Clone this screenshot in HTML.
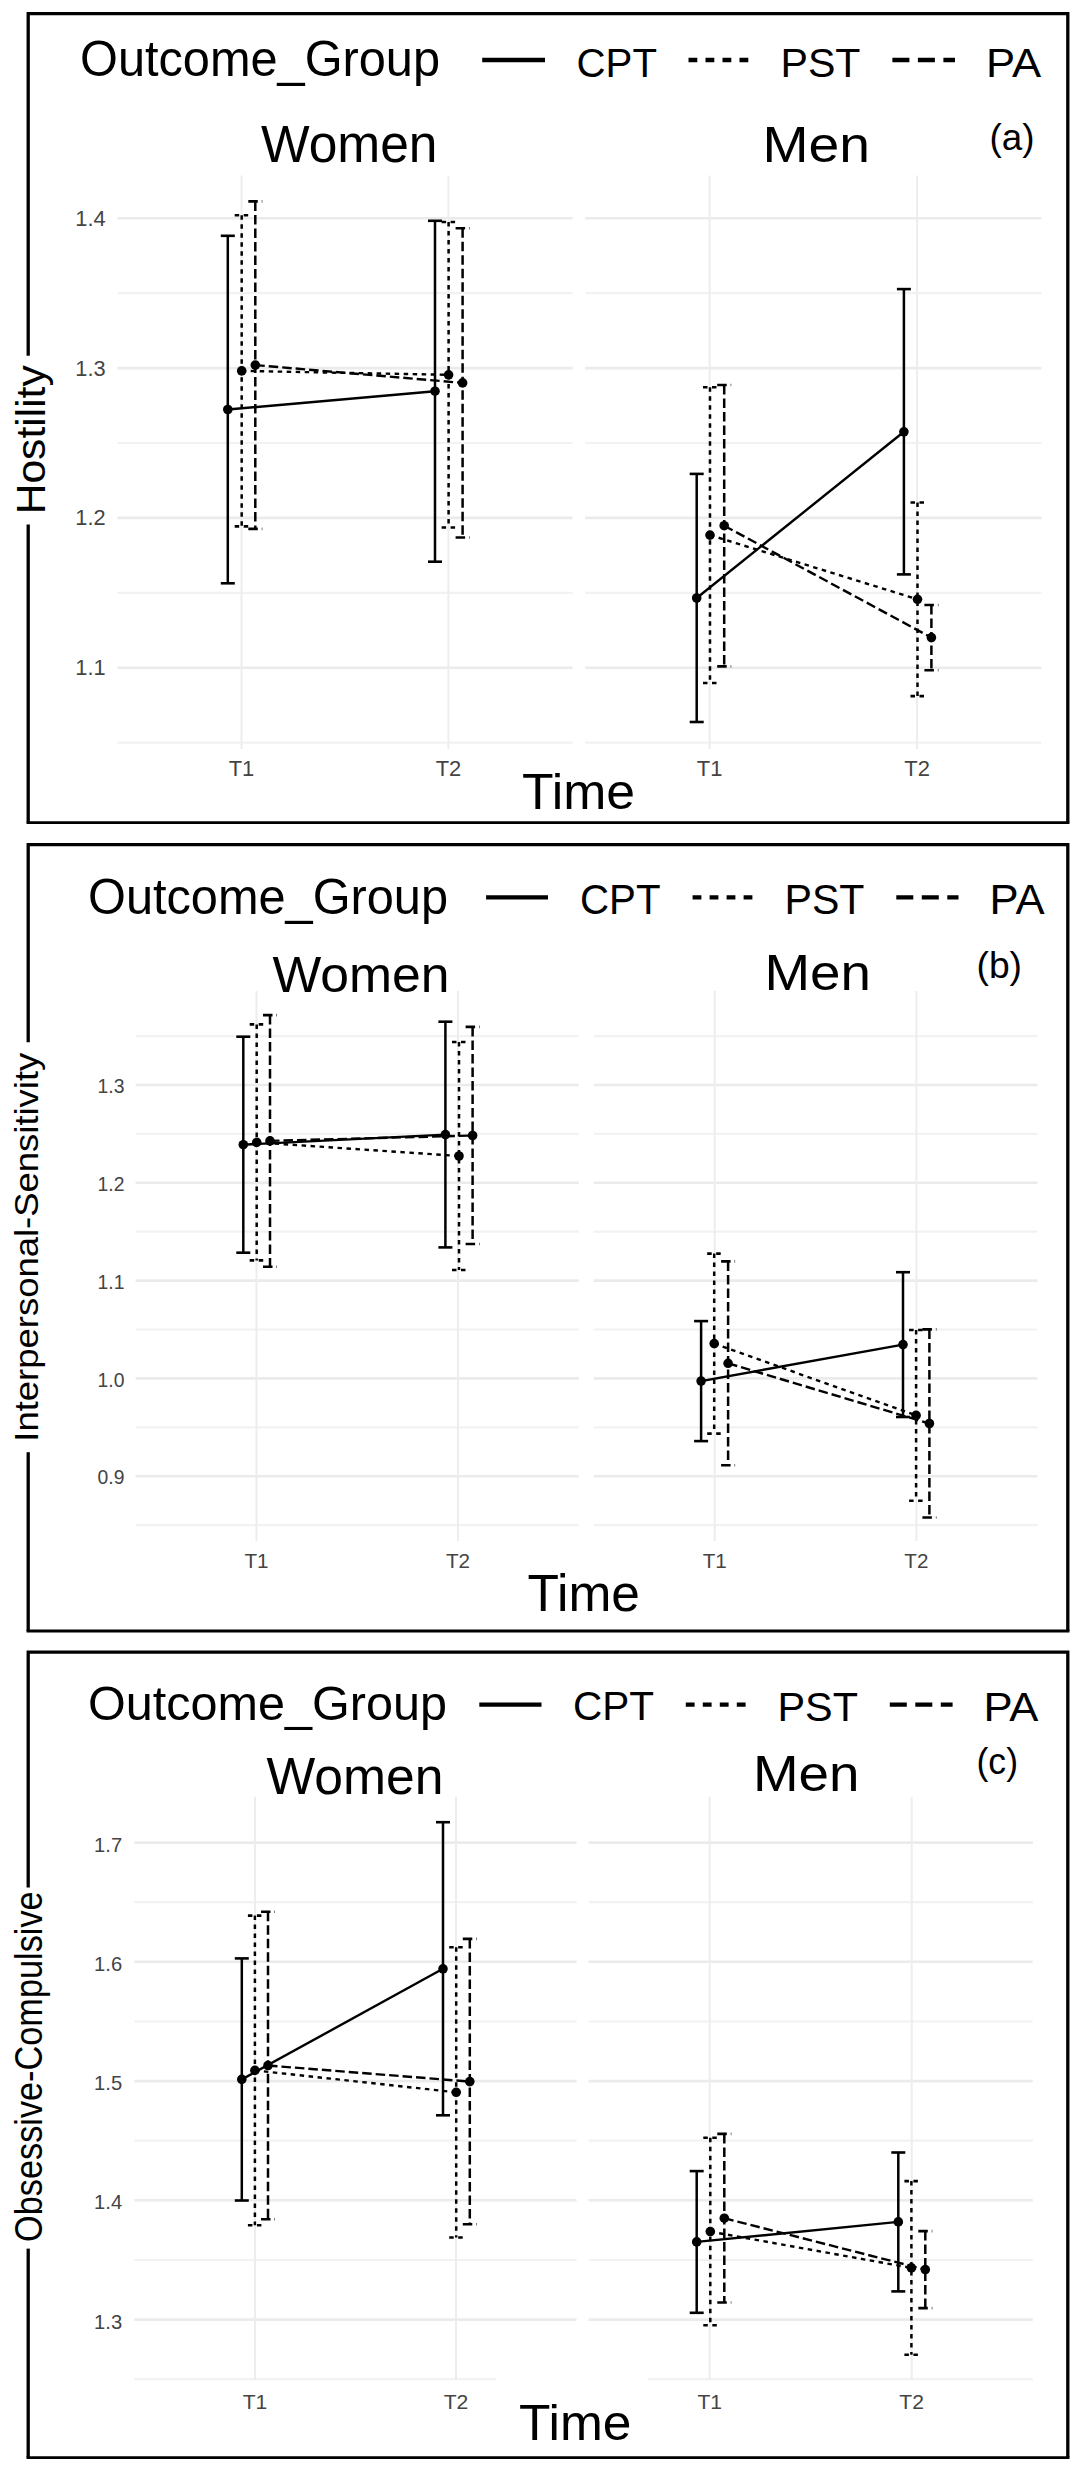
<!DOCTYPE html>
<html><head><meta charset="utf-8"><style>
html,body{margin:0;padding:0;background:#fff;width:1080px;height:2480px;overflow:hidden}
</style></head><body>
<svg width="1080" height="2480" viewBox="0 0 1080 2480" style="display:block;font-family:'Liberation Sans', sans-serif">
<rect width="1080" height="2480" fill="#fff"/>
<line x1="117.3" y1="742.7" x2="572.6" y2="742.7" stroke="#f2f2f2" stroke-width="2.2"/>
<line x1="117.3" y1="667.8" x2="572.6" y2="667.8" stroke="#ebebeb" stroke-width="2.6"/>
<line x1="117.3" y1="592.9" x2="572.6" y2="592.9" stroke="#f2f2f2" stroke-width="2.2"/>
<line x1="117.3" y1="517.9" x2="572.6" y2="517.9" stroke="#ebebeb" stroke-width="2.6"/>
<line x1="117.3" y1="443.0" x2="572.6" y2="443.0" stroke="#f2f2f2" stroke-width="2.2"/>
<line x1="117.3" y1="368.1" x2="572.6" y2="368.1" stroke="#ebebeb" stroke-width="2.6"/>
<line x1="117.3" y1="293.1" x2="572.6" y2="293.1" stroke="#f2f2f2" stroke-width="2.2"/>
<line x1="117.3" y1="218.2" x2="572.6" y2="218.2" stroke="#ebebeb" stroke-width="2.6"/>
<line x1="241.5" y1="175.6" x2="241.5" y2="748.9" stroke="#ededed" stroke-width="2.0"/>
<line x1="448.4" y1="175.6" x2="448.4" y2="748.9" stroke="#ededed" stroke-width="2.0"/>
<line x1="585.2" y1="742.7" x2="1041.5" y2="742.7" stroke="#f2f2f2" stroke-width="2.2"/>
<line x1="585.2" y1="667.8" x2="1041.5" y2="667.8" stroke="#ebebeb" stroke-width="2.6"/>
<line x1="585.2" y1="592.9" x2="1041.5" y2="592.9" stroke="#f2f2f2" stroke-width="2.2"/>
<line x1="585.2" y1="517.9" x2="1041.5" y2="517.9" stroke="#ebebeb" stroke-width="2.6"/>
<line x1="585.2" y1="443.0" x2="1041.5" y2="443.0" stroke="#f2f2f2" stroke-width="2.2"/>
<line x1="585.2" y1="368.1" x2="1041.5" y2="368.1" stroke="#ebebeb" stroke-width="2.6"/>
<line x1="585.2" y1="293.1" x2="1041.5" y2="293.1" stroke="#f2f2f2" stroke-width="2.2"/>
<line x1="585.2" y1="218.2" x2="1041.5" y2="218.2" stroke="#ebebeb" stroke-width="2.6"/>
<line x1="709.6" y1="175.6" x2="709.6" y2="748.9" stroke="#ededed" stroke-width="2.0"/>
<line x1="917.1" y1="175.6" x2="917.1" y2="748.9" stroke="#ededed" stroke-width="2.0"/>
<text x="105.60" y="675.30" font-size="21.80" text-anchor="end" fill="#444" >1.1</text>
<text x="105.60" y="525.43" font-size="21.80" text-anchor="end" fill="#444" >1.2</text>
<text x="105.60" y="375.56" font-size="21.80" text-anchor="end" fill="#444" >1.3</text>
<text x="105.60" y="225.69" font-size="21.80" text-anchor="end" fill="#444" >1.4</text>
<text x="241.47" y="775.60" font-size="21.95" text-anchor="middle" fill="#444" >T1</text>
<text x="448.43" y="775.60" font-size="21.95" text-anchor="middle" fill="#444" >T2</text>
<text x="709.65" y="775.60" font-size="21.95" text-anchor="middle" fill="#444" >T1</text>
<text x="917.05" y="775.60" font-size="21.95" text-anchor="middle" fill="#444" >T2</text>
<line x1="227.8" y1="235.8" x2="227.8" y2="583.3" stroke="#000" stroke-width="2.5"/>
<line x1="220.8" y1="235.8" x2="234.8" y2="235.8" stroke="#000" stroke-width="2.6"/>
<line x1="220.8" y1="583.3" x2="234.8" y2="583.3" stroke="#000" stroke-width="2.6"/>
<line x1="435.0" y1="220.8" x2="435.0" y2="561.7" stroke="#000" stroke-width="2.5"/>
<line x1="428.0" y1="220.8" x2="442.0" y2="220.8" stroke="#000" stroke-width="2.6"/>
<line x1="428.0" y1="561.7" x2="442.0" y2="561.7" stroke="#000" stroke-width="2.6"/>
<line x1="227.8" y1="409.5" x2="435.0" y2="391.2" stroke="#000" stroke-width="2.4"/>
<circle cx="227.8" cy="409.5" r="4.8" fill="#000"/>
<circle cx="435.0" cy="391.2" r="4.8" fill="#000"/>
<line x1="241.7" y1="215.3" x2="241.7" y2="526.4" stroke="#000" stroke-width="2.5" stroke-dasharray="4.5 4.5"/>
<line x1="234.7" y1="215.3" x2="248.7" y2="215.3" stroke="#000" stroke-width="2.6" stroke-dasharray="4.5 4.5"/>
<line x1="234.7" y1="526.4" x2="248.7" y2="526.4" stroke="#000" stroke-width="2.6" stroke-dasharray="4.5 4.5"/>
<line x1="448.6" y1="222.0" x2="448.6" y2="527.5" stroke="#000" stroke-width="2.5" stroke-dasharray="4.5 4.5"/>
<line x1="441.6" y1="222.0" x2="455.6" y2="222.0" stroke="#000" stroke-width="2.6" stroke-dasharray="4.5 4.5"/>
<line x1="441.6" y1="527.5" x2="455.6" y2="527.5" stroke="#000" stroke-width="2.6" stroke-dasharray="4.5 4.5"/>
<line x1="241.7" y1="370.9" x2="448.6" y2="374.8" stroke="#000" stroke-width="2.4" stroke-dasharray="4.5 4.5"/>
<circle cx="241.7" cy="370.9" r="4.8" fill="#000"/>
<circle cx="448.6" cy="374.8" r="4.8" fill="#000"/>
<line x1="255.3" y1="201.4" x2="255.3" y2="528.9" stroke="#000" stroke-width="2.5" stroke-dasharray="9.5 4"/>
<line x1="248.3" y1="201.4" x2="262.3" y2="201.4" stroke="#000" stroke-width="2.6" stroke-dasharray="9.5 4"/>
<line x1="248.3" y1="528.9" x2="262.3" y2="528.9" stroke="#000" stroke-width="2.6" stroke-dasharray="9.5 4"/>
<line x1="462.6" y1="228.3" x2="462.6" y2="537.5" stroke="#000" stroke-width="2.5" stroke-dasharray="9.5 4"/>
<line x1="455.6" y1="228.3" x2="469.6" y2="228.3" stroke="#000" stroke-width="2.6" stroke-dasharray="9.5 4"/>
<line x1="455.6" y1="537.5" x2="469.6" y2="537.5" stroke="#000" stroke-width="2.6" stroke-dasharray="9.5 4"/>
<line x1="255.3" y1="365.1" x2="462.6" y2="382.9" stroke="#000" stroke-width="2.4" stroke-dasharray="9.5 4"/>
<circle cx="255.3" cy="365.1" r="4.8" fill="#000"/>
<circle cx="462.6" cy="382.9" r="4.8" fill="#000"/>
<line x1="696.7" y1="473.9" x2="696.7" y2="722.0" stroke="#000" stroke-width="2.5"/>
<line x1="689.7" y1="473.9" x2="703.7" y2="473.9" stroke="#000" stroke-width="2.6"/>
<line x1="689.7" y1="722.0" x2="703.7" y2="722.0" stroke="#000" stroke-width="2.6"/>
<line x1="903.9" y1="289.1" x2="903.9" y2="574.4" stroke="#000" stroke-width="2.5"/>
<line x1="896.9" y1="289.1" x2="910.9" y2="289.1" stroke="#000" stroke-width="2.6"/>
<line x1="896.9" y1="574.4" x2="910.9" y2="574.4" stroke="#000" stroke-width="2.6"/>
<line x1="696.7" y1="598.0" x2="903.9" y2="431.8" stroke="#000" stroke-width="2.4"/>
<circle cx="696.7" cy="598.0" r="4.8" fill="#000"/>
<circle cx="903.9" cy="431.8" r="4.8" fill="#000"/>
<line x1="710.0" y1="387.2" x2="710.0" y2="683.0" stroke="#000" stroke-width="2.5" stroke-dasharray="4.5 4.5"/>
<line x1="703.0" y1="387.2" x2="717.0" y2="387.2" stroke="#000" stroke-width="2.6" stroke-dasharray="4.5 4.5"/>
<line x1="703.0" y1="683.0" x2="717.0" y2="683.0" stroke="#000" stroke-width="2.6" stroke-dasharray="4.5 4.5"/>
<line x1="917.5" y1="502.5" x2="917.5" y2="696.1" stroke="#000" stroke-width="2.5" stroke-dasharray="4.5 4.5"/>
<line x1="910.5" y1="502.5" x2="924.5" y2="502.5" stroke="#000" stroke-width="2.6" stroke-dasharray="4.5 4.5"/>
<line x1="910.5" y1="696.1" x2="924.5" y2="696.1" stroke="#000" stroke-width="2.6" stroke-dasharray="4.5 4.5"/>
<line x1="710.0" y1="535.1" x2="917.5" y2="599.3" stroke="#000" stroke-width="2.4" stroke-dasharray="4.5 4.5"/>
<circle cx="710.0" cy="535.1" r="4.8" fill="#000"/>
<circle cx="917.5" cy="599.3" r="4.8" fill="#000"/>
<line x1="724.2" y1="385.0" x2="724.2" y2="666.4" stroke="#000" stroke-width="2.5" stroke-dasharray="9.5 4"/>
<line x1="717.2" y1="385.0" x2="731.2" y2="385.0" stroke="#000" stroke-width="2.6" stroke-dasharray="9.5 4"/>
<line x1="717.2" y1="666.4" x2="731.2" y2="666.4" stroke="#000" stroke-width="2.6" stroke-dasharray="9.5 4"/>
<line x1="931.4" y1="605.0" x2="931.4" y2="670.3" stroke="#000" stroke-width="2.5" stroke-dasharray="9.5 4"/>
<line x1="924.4" y1="605.0" x2="938.4" y2="605.0" stroke="#000" stroke-width="2.6" stroke-dasharray="9.5 4"/>
<line x1="924.4" y1="670.3" x2="938.4" y2="670.3" stroke="#000" stroke-width="2.6" stroke-dasharray="9.5 4"/>
<line x1="724.2" y1="525.7" x2="931.4" y2="637.6" stroke="#000" stroke-width="2.4" stroke-dasharray="9.5 4"/>
<circle cx="724.2" cy="525.7" r="4.8" fill="#000"/>
<circle cx="931.4" cy="637.6" r="4.8" fill="#000"/>
<text x="80.00" y="76.00" font-size="50.15" text-anchor="start" fill="#000" textLength="360.00" lengthAdjust="spacingAndGlyphs" >Outcome_Group</text>
<text x="576.50" y="76.50" font-size="40.84" text-anchor="start" fill="#000" textLength="80.50" lengthAdjust="spacingAndGlyphs" >CPT</text>
<text x="780.50" y="76.50" font-size="40.84" text-anchor="start" fill="#000" textLength="80.00" lengthAdjust="spacingAndGlyphs" >PST</text>
<text x="986.00" y="76.70" font-size="40.84" text-anchor="start" fill="#000" textLength="55.00" lengthAdjust="spacingAndGlyphs" >PA</text>
<line x1="482.2" y1="60.0" x2="545.0" y2="60.0" stroke="#000" stroke-width="4.3"/>
<line x1="688.5" y1="60.0" x2="749.7" y2="60.0" stroke="#000" stroke-width="4.3" stroke-dasharray="8.8 8.2"/>
<line x1="892.4" y1="60.0" x2="955.0" y2="60.0" stroke="#000" stroke-width="4.3" stroke-dasharray="17 8.5"/>
<text x="261.00" y="162.00" font-size="51.89" text-anchor="start" fill="#000" textLength="176.50" lengthAdjust="spacingAndGlyphs" >Women</text>
<text x="762.50" y="162.20" font-size="50.73" text-anchor="start" fill="#000" textLength="107.50" lengthAdjust="spacingAndGlyphs" >Men</text>
<text x="989.50" y="149.80" font-size="37.42" text-anchor="start" fill="#000" textLength="45.00" lengthAdjust="spacingAndGlyphs" >(a)</text>
<text x="522.00" y="808.50" font-size="50.58" text-anchor="start" fill="#000" textLength="113.00" lengthAdjust="spacingAndGlyphs" >Time</text>
<text x="0" y="0" font-size="41.13" textLength="149.00" lengthAdjust="spacingAndGlyphs" transform="translate(45.0,514.30) rotate(-90)">Hostility</text>
<path d="M28.2,355.8 V13.6 H1067.8 V822.6" fill="none" stroke="#000" stroke-width="3.3"/>
<line x1="26.55" y1="822.6" x2="1069.45" y2="822.6" stroke="#000" stroke-width="2.7"/>
<line x1="28.2" y1="524.4" x2="28.2" y2="822.6" stroke="#000" stroke-width="3.3"/>
<line x1="135.6" y1="1525.1" x2="578.9" y2="1525.1" stroke="#f2f2f2" stroke-width="2.2"/>
<line x1="135.6" y1="1476.2" x2="578.9" y2="1476.2" stroke="#ebebeb" stroke-width="2.6"/>
<line x1="135.6" y1="1427.3" x2="578.9" y2="1427.3" stroke="#f2f2f2" stroke-width="2.2"/>
<line x1="135.6" y1="1378.4" x2="578.9" y2="1378.4" stroke="#ebebeb" stroke-width="2.6"/>
<line x1="135.6" y1="1329.5" x2="578.9" y2="1329.5" stroke="#f2f2f2" stroke-width="2.2"/>
<line x1="135.6" y1="1280.6" x2="578.9" y2="1280.6" stroke="#ebebeb" stroke-width="2.6"/>
<line x1="135.6" y1="1231.7" x2="578.9" y2="1231.7" stroke="#f2f2f2" stroke-width="2.2"/>
<line x1="135.6" y1="1182.8" x2="578.9" y2="1182.8" stroke="#ebebeb" stroke-width="2.6"/>
<line x1="135.6" y1="1133.9" x2="578.9" y2="1133.9" stroke="#f2f2f2" stroke-width="2.2"/>
<line x1="135.6" y1="1085.0" x2="578.9" y2="1085.0" stroke="#ebebeb" stroke-width="2.6"/>
<line x1="135.6" y1="1036.1" x2="578.9" y2="1036.1" stroke="#f2f2f2" stroke-width="2.2"/>
<line x1="256.5" y1="991.0" x2="256.5" y2="1541.0" stroke="#ededed" stroke-width="2.0"/>
<line x1="458.0" y1="991.0" x2="458.0" y2="1541.0" stroke="#ededed" stroke-width="2.0"/>
<line x1="593.7" y1="1525.1" x2="1037.4" y2="1525.1" stroke="#f2f2f2" stroke-width="2.2"/>
<line x1="593.7" y1="1476.2" x2="1037.4" y2="1476.2" stroke="#ebebeb" stroke-width="2.6"/>
<line x1="593.7" y1="1427.3" x2="1037.4" y2="1427.3" stroke="#f2f2f2" stroke-width="2.2"/>
<line x1="593.7" y1="1378.4" x2="1037.4" y2="1378.4" stroke="#ebebeb" stroke-width="2.6"/>
<line x1="593.7" y1="1329.5" x2="1037.4" y2="1329.5" stroke="#f2f2f2" stroke-width="2.2"/>
<line x1="593.7" y1="1280.6" x2="1037.4" y2="1280.6" stroke="#ebebeb" stroke-width="2.6"/>
<line x1="593.7" y1="1231.7" x2="1037.4" y2="1231.7" stroke="#f2f2f2" stroke-width="2.2"/>
<line x1="593.7" y1="1182.8" x2="1037.4" y2="1182.8" stroke="#ebebeb" stroke-width="2.6"/>
<line x1="593.7" y1="1133.9" x2="1037.4" y2="1133.9" stroke="#f2f2f2" stroke-width="2.2"/>
<line x1="593.7" y1="1085.0" x2="1037.4" y2="1085.0" stroke="#ebebeb" stroke-width="2.6"/>
<line x1="593.7" y1="1036.1" x2="1037.4" y2="1036.1" stroke="#f2f2f2" stroke-width="2.2"/>
<line x1="714.7" y1="991.0" x2="714.7" y2="1541.0" stroke="#ededed" stroke-width="2.0"/>
<line x1="916.4" y1="991.0" x2="916.4" y2="1541.0" stroke="#ededed" stroke-width="2.0"/>
<text x="124.40" y="1484.35" font-size="19.33" text-anchor="end" fill="#444" >0.9</text>
<text x="124.40" y="1386.55" font-size="19.33" text-anchor="end" fill="#444" >1.0</text>
<text x="124.40" y="1288.75" font-size="19.33" text-anchor="end" fill="#444" >1.1</text>
<text x="124.40" y="1190.95" font-size="19.33" text-anchor="end" fill="#444" >1.2</text>
<text x="124.40" y="1093.15" font-size="19.33" text-anchor="end" fill="#444" >1.3</text>
<text x="256.50" y="1568.40" font-size="20.64" text-anchor="middle" fill="#444" >T1</text>
<text x="458.00" y="1568.40" font-size="20.64" text-anchor="middle" fill="#444" >T2</text>
<text x="714.71" y="1568.40" font-size="20.64" text-anchor="middle" fill="#444" >T1</text>
<text x="916.39" y="1568.40" font-size="20.64" text-anchor="middle" fill="#444" >T2</text>
<line x1="243.3" y1="1036.7" x2="243.3" y2="1252.7" stroke="#000" stroke-width="2.5"/>
<line x1="236.3" y1="1036.7" x2="250.3" y2="1036.7" stroke="#000" stroke-width="2.6"/>
<line x1="236.3" y1="1252.7" x2="250.3" y2="1252.7" stroke="#000" stroke-width="2.6"/>
<line x1="445.4" y1="1021.7" x2="445.4" y2="1247.4" stroke="#000" stroke-width="2.5"/>
<line x1="438.4" y1="1021.7" x2="452.4" y2="1021.7" stroke="#000" stroke-width="2.6"/>
<line x1="438.4" y1="1247.4" x2="452.4" y2="1247.4" stroke="#000" stroke-width="2.6"/>
<line x1="243.3" y1="1144.7" x2="445.4" y2="1134.6" stroke="#000" stroke-width="2.4"/>
<circle cx="243.3" cy="1144.7" r="4.8" fill="#000"/>
<circle cx="445.4" cy="1134.6" r="4.8" fill="#000"/>
<line x1="256.7" y1="1024.4" x2="256.7" y2="1260.4" stroke="#000" stroke-width="2.5" stroke-dasharray="4.5 4.5"/>
<line x1="249.7" y1="1024.4" x2="263.7" y2="1024.4" stroke="#000" stroke-width="2.6" stroke-dasharray="4.5 4.5"/>
<line x1="249.7" y1="1260.4" x2="263.7" y2="1260.4" stroke="#000" stroke-width="2.6" stroke-dasharray="4.5 4.5"/>
<line x1="459.0" y1="1042.0" x2="459.0" y2="1270.0" stroke="#000" stroke-width="2.5" stroke-dasharray="4.5 4.5"/>
<line x1="452.0" y1="1042.0" x2="466.0" y2="1042.0" stroke="#000" stroke-width="2.6" stroke-dasharray="4.5 4.5"/>
<line x1="452.0" y1="1270.0" x2="466.0" y2="1270.0" stroke="#000" stroke-width="2.6" stroke-dasharray="4.5 4.5"/>
<line x1="256.7" y1="1142.4" x2="459.0" y2="1156.0" stroke="#000" stroke-width="2.4" stroke-dasharray="4.5 4.5"/>
<circle cx="256.7" cy="1142.4" r="4.8" fill="#000"/>
<circle cx="459.0" cy="1156.0" r="4.8" fill="#000"/>
<line x1="270.0" y1="1015.1" x2="270.0" y2="1266.7" stroke="#000" stroke-width="2.5" stroke-dasharray="9.5 4"/>
<line x1="263.0" y1="1015.1" x2="277.0" y2="1015.1" stroke="#000" stroke-width="2.6" stroke-dasharray="9.5 4"/>
<line x1="263.0" y1="1266.7" x2="277.0" y2="1266.7" stroke="#000" stroke-width="2.6" stroke-dasharray="9.5 4"/>
<line x1="472.6" y1="1026.9" x2="472.6" y2="1244.0" stroke="#000" stroke-width="2.5" stroke-dasharray="9.5 4"/>
<line x1="465.6" y1="1026.9" x2="479.6" y2="1026.9" stroke="#000" stroke-width="2.6" stroke-dasharray="9.5 4"/>
<line x1="465.6" y1="1244.0" x2="479.6" y2="1244.0" stroke="#000" stroke-width="2.6" stroke-dasharray="9.5 4"/>
<line x1="270.0" y1="1140.9" x2="472.6" y2="1135.5" stroke="#000" stroke-width="2.4" stroke-dasharray="9.5 4"/>
<circle cx="270.0" cy="1140.9" r="4.8" fill="#000"/>
<circle cx="472.6" cy="1135.5" r="4.8" fill="#000"/>
<line x1="701.1" y1="1321.1" x2="701.1" y2="1441.1" stroke="#000" stroke-width="2.5"/>
<line x1="694.1" y1="1321.1" x2="708.1" y2="1321.1" stroke="#000" stroke-width="2.6"/>
<line x1="694.1" y1="1441.1" x2="708.1" y2="1441.1" stroke="#000" stroke-width="2.6"/>
<line x1="903.0" y1="1272.2" x2="903.0" y2="1417.0" stroke="#000" stroke-width="2.5"/>
<line x1="896.0" y1="1272.2" x2="910.0" y2="1272.2" stroke="#000" stroke-width="2.6"/>
<line x1="896.0" y1="1417.0" x2="910.0" y2="1417.0" stroke="#000" stroke-width="2.6"/>
<line x1="701.1" y1="1381.1" x2="903.0" y2="1344.6" stroke="#000" stroke-width="2.4"/>
<circle cx="701.1" cy="1381.1" r="4.8" fill="#000"/>
<circle cx="903.0" cy="1344.6" r="4.8" fill="#000"/>
<line x1="714.2" y1="1253.6" x2="714.2" y2="1433.6" stroke="#000" stroke-width="2.5" stroke-dasharray="4.5 4.5"/>
<line x1="707.2" y1="1253.6" x2="721.2" y2="1253.6" stroke="#000" stroke-width="2.6" stroke-dasharray="4.5 4.5"/>
<line x1="707.2" y1="1433.6" x2="721.2" y2="1433.6" stroke="#000" stroke-width="2.6" stroke-dasharray="4.5 4.5"/>
<line x1="916.1" y1="1330.0" x2="916.1" y2="1500.8" stroke="#000" stroke-width="2.5" stroke-dasharray="4.5 4.5"/>
<line x1="909.1" y1="1330.0" x2="923.1" y2="1330.0" stroke="#000" stroke-width="2.6" stroke-dasharray="4.5 4.5"/>
<line x1="909.1" y1="1500.8" x2="923.1" y2="1500.8" stroke="#000" stroke-width="2.6" stroke-dasharray="4.5 4.5"/>
<line x1="714.2" y1="1343.6" x2="916.1" y2="1415.4" stroke="#000" stroke-width="2.4" stroke-dasharray="4.5 4.5"/>
<circle cx="714.2" cy="1343.6" r="4.8" fill="#000"/>
<circle cx="916.1" cy="1415.4" r="4.8" fill="#000"/>
<line x1="728.1" y1="1261.4" x2="728.1" y2="1465.3" stroke="#000" stroke-width="2.5" stroke-dasharray="9.5 4"/>
<line x1="721.1" y1="1261.4" x2="735.1" y2="1261.4" stroke="#000" stroke-width="2.6" stroke-dasharray="9.5 4"/>
<line x1="721.1" y1="1465.3" x2="735.1" y2="1465.3" stroke="#000" stroke-width="2.6" stroke-dasharray="9.5 4"/>
<line x1="929.4" y1="1329.4" x2="929.4" y2="1517.5" stroke="#000" stroke-width="2.5" stroke-dasharray="9.5 4"/>
<line x1="922.4" y1="1329.4" x2="936.4" y2="1329.4" stroke="#000" stroke-width="2.6" stroke-dasharray="9.5 4"/>
<line x1="922.4" y1="1517.5" x2="936.4" y2="1517.5" stroke="#000" stroke-width="2.6" stroke-dasharray="9.5 4"/>
<line x1="728.1" y1="1363.3" x2="929.4" y2="1423.5" stroke="#000" stroke-width="2.4" stroke-dasharray="9.5 4"/>
<circle cx="728.1" cy="1363.3" r="4.8" fill="#000"/>
<circle cx="929.4" cy="1423.5" r="4.8" fill="#000"/>
<text x="88.00" y="913.70" font-size="50.15" text-anchor="start" fill="#000" textLength="360.00" lengthAdjust="spacingAndGlyphs" >Outcome_Group</text>
<text x="580.00" y="914.20" font-size="42.15" text-anchor="start" fill="#000" textLength="80.50" lengthAdjust="spacingAndGlyphs" >CPT</text>
<text x="784.50" y="914.20" font-size="42.15" text-anchor="start" fill="#000" textLength="80.00" lengthAdjust="spacingAndGlyphs" >PST</text>
<text x="989.50" y="914.20" font-size="42.15" text-anchor="start" fill="#000" textLength="55.00" lengthAdjust="spacingAndGlyphs" >PA</text>
<line x1="486.1" y1="897.3" x2="548.0" y2="897.3" stroke="#000" stroke-width="4.3"/>
<line x1="692.6" y1="897.3" x2="753.3" y2="897.3" stroke="#000" stroke-width="4.3" stroke-dasharray="8.8 8.2"/>
<line x1="896.3" y1="897.3" x2="958.5" y2="897.3" stroke="#000" stroke-width="4.3" stroke-dasharray="17 8.5"/>
<text x="272.50" y="991.90" font-size="50.73" text-anchor="start" fill="#000" textLength="177.00" lengthAdjust="spacingAndGlyphs" >Women</text>
<text x="764.50" y="990.10" font-size="50.73" text-anchor="start" fill="#000" textLength="106.50" lengthAdjust="spacingAndGlyphs" >Men</text>
<text x="976.50" y="978.30" font-size="37.31" text-anchor="start" fill="#000" textLength="45.50" lengthAdjust="spacingAndGlyphs" >(b)</text>
<text x="527.50" y="1611.10" font-size="51.16" text-anchor="start" fill="#000" textLength="112.50" lengthAdjust="spacingAndGlyphs" >Time</text>
<text x="0" y="0" font-size="33.58" textLength="389.00" lengthAdjust="spacingAndGlyphs" transform="translate(38.3,1441.70) rotate(-90)">Interpersonal-Sensitivity</text>
<path d="M28.2,1042.2 V844.6 H1067.8 V1631.0" fill="none" stroke="#000" stroke-width="3.3"/>
<line x1="26.55" y1="1631.0" x2="1069.45" y2="1631.0" stroke="#000" stroke-width="3.0"/>
<line x1="28.2" y1="1452.2" x2="28.2" y2="1631.0" stroke="#000" stroke-width="3.3"/>
<line x1="134.4" y1="2379.2" x2="576.6" y2="2379.2" stroke="#f2f2f2" stroke-width="2.2"/>
<line x1="134.4" y1="2319.6" x2="576.6" y2="2319.6" stroke="#ebebeb" stroke-width="2.6"/>
<line x1="134.4" y1="2260.0" x2="576.6" y2="2260.0" stroke="#f2f2f2" stroke-width="2.2"/>
<line x1="134.4" y1="2200.3" x2="576.6" y2="2200.3" stroke="#ebebeb" stroke-width="2.6"/>
<line x1="134.4" y1="2140.7" x2="576.6" y2="2140.7" stroke="#f2f2f2" stroke-width="2.2"/>
<line x1="134.4" y1="2081.1" x2="576.6" y2="2081.1" stroke="#ebebeb" stroke-width="2.6"/>
<line x1="134.4" y1="2021.5" x2="576.6" y2="2021.5" stroke="#f2f2f2" stroke-width="2.2"/>
<line x1="134.4" y1="1961.8" x2="576.6" y2="1961.8" stroke="#ebebeb" stroke-width="2.6"/>
<line x1="134.4" y1="1902.2" x2="576.6" y2="1902.2" stroke="#f2f2f2" stroke-width="2.2"/>
<line x1="134.4" y1="1842.6" x2="576.6" y2="1842.6" stroke="#ebebeb" stroke-width="2.6"/>
<line x1="255.0" y1="1796.7" x2="255.0" y2="2380.0" stroke="#ededed" stroke-width="2.0"/>
<line x1="456.0" y1="1796.7" x2="456.0" y2="2380.0" stroke="#ededed" stroke-width="2.0"/>
<line x1="588.6" y1="2379.2" x2="1032.8" y2="2379.2" stroke="#f2f2f2" stroke-width="2.2"/>
<line x1="588.6" y1="2319.6" x2="1032.8" y2="2319.6" stroke="#ebebeb" stroke-width="2.6"/>
<line x1="588.6" y1="2260.0" x2="1032.8" y2="2260.0" stroke="#f2f2f2" stroke-width="2.2"/>
<line x1="588.6" y1="2200.3" x2="1032.8" y2="2200.3" stroke="#ebebeb" stroke-width="2.6"/>
<line x1="588.6" y1="2140.7" x2="1032.8" y2="2140.7" stroke="#f2f2f2" stroke-width="2.2"/>
<line x1="588.6" y1="2081.1" x2="1032.8" y2="2081.1" stroke="#ebebeb" stroke-width="2.6"/>
<line x1="588.6" y1="2021.5" x2="1032.8" y2="2021.5" stroke="#f2f2f2" stroke-width="2.2"/>
<line x1="588.6" y1="1961.8" x2="1032.8" y2="1961.8" stroke="#ebebeb" stroke-width="2.6"/>
<line x1="588.6" y1="1902.2" x2="1032.8" y2="1902.2" stroke="#f2f2f2" stroke-width="2.2"/>
<line x1="588.6" y1="1842.6" x2="1032.8" y2="1842.6" stroke="#ebebeb" stroke-width="2.6"/>
<line x1="709.7" y1="1796.7" x2="709.7" y2="2380.0" stroke="#ededed" stroke-width="2.0"/>
<line x1="911.7" y1="1796.7" x2="911.7" y2="2380.0" stroke="#ededed" stroke-width="2.0"/>
<rect x="496" y="2370" width="152" height="82" fill="#fff"/>
<text x="122.20" y="2328.55" font-size="20.20" text-anchor="end" fill="#444" >1.3</text>
<text x="122.20" y="2209.30" font-size="20.20" text-anchor="end" fill="#444" >1.4</text>
<text x="122.20" y="2090.05" font-size="20.20" text-anchor="end" fill="#444" >1.5</text>
<text x="122.20" y="1970.80" font-size="20.20" text-anchor="end" fill="#444" >1.6</text>
<text x="122.20" y="1851.55" font-size="20.20" text-anchor="end" fill="#444" >1.7</text>
<text x="255.00" y="2409.10" font-size="21.08" text-anchor="middle" fill="#444" >T1</text>
<text x="456.00" y="2409.10" font-size="21.08" text-anchor="middle" fill="#444" >T2</text>
<text x="709.75" y="2409.10" font-size="21.08" text-anchor="middle" fill="#444" >T1</text>
<text x="911.65" y="2409.10" font-size="21.08" text-anchor="middle" fill="#444" >T2</text>
<line x1="241.8" y1="1958.4" x2="241.8" y2="2200.5" stroke="#000" stroke-width="2.5"/>
<line x1="234.8" y1="1958.4" x2="248.8" y2="1958.4" stroke="#000" stroke-width="2.6"/>
<line x1="234.8" y1="2200.5" x2="248.8" y2="2200.5" stroke="#000" stroke-width="2.6"/>
<line x1="443.0" y1="1822.2" x2="443.0" y2="2115.3" stroke="#000" stroke-width="2.5"/>
<line x1="436.0" y1="1822.2" x2="450.0" y2="1822.2" stroke="#000" stroke-width="2.6"/>
<line x1="436.0" y1="2115.3" x2="450.0" y2="2115.3" stroke="#000" stroke-width="2.6"/>
<line x1="241.8" y1="2079.4" x2="443.0" y2="1968.8" stroke="#000" stroke-width="2.4"/>
<circle cx="241.8" cy="2079.4" r="4.8" fill="#000"/>
<circle cx="443.0" cy="1968.8" r="4.8" fill="#000"/>
<line x1="254.9" y1="1915.6" x2="254.9" y2="2225.2" stroke="#000" stroke-width="2.5" stroke-dasharray="4.5 4.5"/>
<line x1="247.9" y1="1915.6" x2="261.9" y2="1915.6" stroke="#000" stroke-width="2.6" stroke-dasharray="4.5 4.5"/>
<line x1="247.9" y1="2225.2" x2="261.9" y2="2225.2" stroke="#000" stroke-width="2.6" stroke-dasharray="4.5 4.5"/>
<line x1="456.2" y1="1947.2" x2="456.2" y2="2237.5" stroke="#000" stroke-width="2.5" stroke-dasharray="4.5 4.5"/>
<line x1="449.2" y1="1947.2" x2="463.2" y2="1947.2" stroke="#000" stroke-width="2.6" stroke-dasharray="4.5 4.5"/>
<line x1="449.2" y1="2237.5" x2="463.2" y2="2237.5" stroke="#000" stroke-width="2.6" stroke-dasharray="4.5 4.5"/>
<line x1="254.9" y1="2070.4" x2="456.2" y2="2092.3" stroke="#000" stroke-width="2.4" stroke-dasharray="4.5 4.5"/>
<circle cx="254.9" cy="2070.4" r="4.8" fill="#000"/>
<circle cx="456.2" cy="2092.3" r="4.8" fill="#000"/>
<line x1="268.0" y1="1911.8" x2="268.0" y2="2219.2" stroke="#000" stroke-width="2.5" stroke-dasharray="9.5 4"/>
<line x1="261.0" y1="1911.8" x2="275.0" y2="1911.8" stroke="#000" stroke-width="2.6" stroke-dasharray="9.5 4"/>
<line x1="261.0" y1="2219.2" x2="275.0" y2="2219.2" stroke="#000" stroke-width="2.6" stroke-dasharray="9.5 4"/>
<line x1="469.8" y1="1938.9" x2="469.8" y2="2224.2" stroke="#000" stroke-width="2.5" stroke-dasharray="9.5 4"/>
<line x1="462.8" y1="1938.9" x2="476.8" y2="1938.9" stroke="#000" stroke-width="2.6" stroke-dasharray="9.5 4"/>
<line x1="462.8" y1="2224.2" x2="476.8" y2="2224.2" stroke="#000" stroke-width="2.6" stroke-dasharray="9.5 4"/>
<line x1="268.0" y1="2065.5" x2="469.8" y2="2081.6" stroke="#000" stroke-width="2.4" stroke-dasharray="9.5 4"/>
<circle cx="268.0" cy="2065.5" r="4.8" fill="#000"/>
<circle cx="469.8" cy="2081.6" r="4.8" fill="#000"/>
<line x1="696.7" y1="2171.1" x2="696.7" y2="2312.8" stroke="#000" stroke-width="2.5"/>
<line x1="689.7" y1="2171.1" x2="703.7" y2="2171.1" stroke="#000" stroke-width="2.6"/>
<line x1="689.7" y1="2312.8" x2="703.7" y2="2312.8" stroke="#000" stroke-width="2.6"/>
<line x1="898.3" y1="2152.5" x2="898.3" y2="2291.4" stroke="#000" stroke-width="2.5"/>
<line x1="891.3" y1="2152.5" x2="905.3" y2="2152.5" stroke="#000" stroke-width="2.6"/>
<line x1="891.3" y1="2291.4" x2="905.3" y2="2291.4" stroke="#000" stroke-width="2.6"/>
<line x1="696.7" y1="2241.9" x2="898.3" y2="2221.9" stroke="#000" stroke-width="2.4"/>
<circle cx="696.7" cy="2241.9" r="4.8" fill="#000"/>
<circle cx="898.3" cy="2221.9" r="4.8" fill="#000"/>
<line x1="710.3" y1="2137.8" x2="710.3" y2="2325.3" stroke="#000" stroke-width="2.5" stroke-dasharray="4.5 4.5"/>
<line x1="703.3" y1="2137.8" x2="717.3" y2="2137.8" stroke="#000" stroke-width="2.6" stroke-dasharray="4.5 4.5"/>
<line x1="703.3" y1="2325.3" x2="717.3" y2="2325.3" stroke="#000" stroke-width="2.6" stroke-dasharray="4.5 4.5"/>
<line x1="911.4" y1="2181.1" x2="911.4" y2="2354.7" stroke="#000" stroke-width="2.5" stroke-dasharray="4.5 4.5"/>
<line x1="904.4" y1="2181.1" x2="918.4" y2="2181.1" stroke="#000" stroke-width="2.6" stroke-dasharray="4.5 4.5"/>
<line x1="904.4" y1="2354.7" x2="918.4" y2="2354.7" stroke="#000" stroke-width="2.6" stroke-dasharray="4.5 4.5"/>
<line x1="710.3" y1="2231.6" x2="911.4" y2="2267.9" stroke="#000" stroke-width="2.4" stroke-dasharray="4.5 4.5"/>
<circle cx="710.3" cy="2231.6" r="4.8" fill="#000"/>
<circle cx="911.4" cy="2267.9" r="4.8" fill="#000"/>
<line x1="724.3" y1="2133.9" x2="724.3" y2="2302.5" stroke="#000" stroke-width="2.5" stroke-dasharray="9.5 4"/>
<line x1="717.3" y1="2133.9" x2="731.3" y2="2133.9" stroke="#000" stroke-width="2.6" stroke-dasharray="9.5 4"/>
<line x1="717.3" y1="2302.5" x2="731.3" y2="2302.5" stroke="#000" stroke-width="2.6" stroke-dasharray="9.5 4"/>
<line x1="925.3" y1="2231.1" x2="925.3" y2="2308.1" stroke="#000" stroke-width="2.5" stroke-dasharray="9.5 4"/>
<line x1="918.3" y1="2231.1" x2="932.3" y2="2231.1" stroke="#000" stroke-width="2.6" stroke-dasharray="9.5 4"/>
<line x1="918.3" y1="2308.1" x2="932.3" y2="2308.1" stroke="#000" stroke-width="2.6" stroke-dasharray="9.5 4"/>
<line x1="724.3" y1="2218.2" x2="925.3" y2="2269.6" stroke="#000" stroke-width="2.4" stroke-dasharray="9.5 4"/>
<circle cx="724.3" cy="2218.2" r="4.8" fill="#000"/>
<circle cx="925.3" cy="2269.6" r="4.8" fill="#000"/>
<text x="88.00" y="1720.00" font-size="48.69" text-anchor="start" fill="#000" textLength="359.00" lengthAdjust="spacingAndGlyphs" >Outcome_Group</text>
<text x="573.00" y="1720.40" font-size="40.99" text-anchor="start" fill="#000" textLength="81.00" lengthAdjust="spacingAndGlyphs" >CPT</text>
<text x="777.50" y="1720.80" font-size="40.99" text-anchor="start" fill="#000" textLength="80.50" lengthAdjust="spacingAndGlyphs" >PST</text>
<text x="983.50" y="1720.60" font-size="40.99" text-anchor="start" fill="#000" textLength="55.00" lengthAdjust="spacingAndGlyphs" >PA</text>
<line x1="479.3" y1="1704.7" x2="541.5" y2="1704.7" stroke="#000" stroke-width="4.3"/>
<line x1="685.8" y1="1704.7" x2="746.8" y2="1704.7" stroke="#000" stroke-width="4.3" stroke-dasharray="8.8 8.2"/>
<line x1="889.8" y1="1704.7" x2="952.6" y2="1704.7" stroke="#000" stroke-width="4.3" stroke-dasharray="17 8.5"/>
<text x="266.50" y="1794.00" font-size="51.31" text-anchor="start" fill="#000" textLength="177.00" lengthAdjust="spacingAndGlyphs" >Women</text>
<text x="753.00" y="1790.70" font-size="50.29" text-anchor="start" fill="#000" textLength="106.50" lengthAdjust="spacingAndGlyphs" >Men</text>
<text x="976.50" y="1773.90" font-size="37.31" text-anchor="start" fill="#000" textLength="41.50" lengthAdjust="spacingAndGlyphs" >(c)</text>
<text x="519.00" y="2439.60" font-size="50.29" text-anchor="start" fill="#000" textLength="112.50" lengthAdjust="spacingAndGlyphs" >Time</text>
<text x="0" y="0" font-size="38.66" textLength="350.50" lengthAdjust="spacingAndGlyphs" transform="translate(41.5,2241.90) rotate(-90)">Obsessive-Compulsive</text>
<path d="M28.2,1887.4 V1652.1 H1067.8 V2457.6" fill="none" stroke="#000" stroke-width="3.3"/>
<line x1="26.55" y1="2457.6" x2="1069.45" y2="2457.6" stroke="#000" stroke-width="2.7"/>
<line x1="28.2" y1="2248.6" x2="28.2" y2="2457.6" stroke="#000" stroke-width="3.3"/>
</svg>
</body></html>
